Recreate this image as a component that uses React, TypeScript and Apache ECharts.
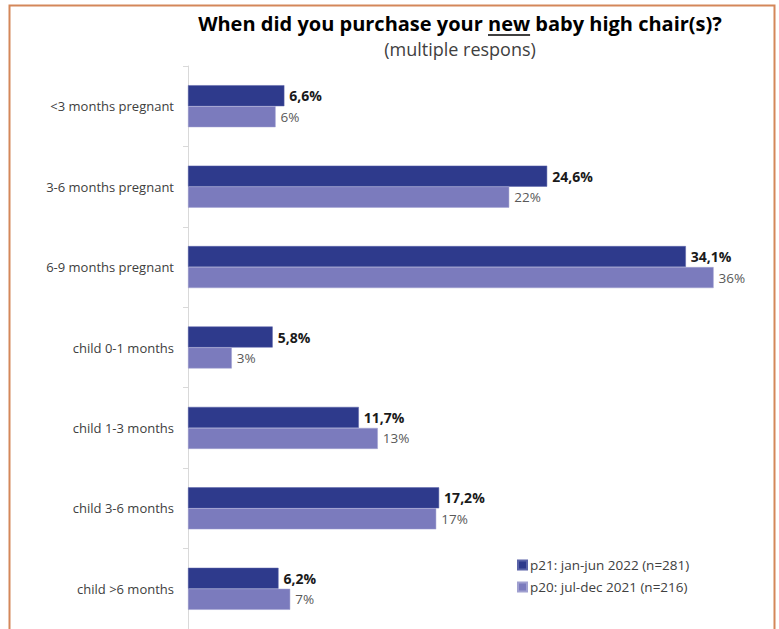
import React, { useEffect, useRef } from "react";
import * as echarts from "echarts";

const categories = [
  "<3 months pregnant",
  "3-6 months pregnant",
  "6-9 months pregnant",
  "child 0-1 months",
  "child 1-3 months",
  "child 3-6 months",
  "child >6 months",
];
const p21Values = [6.6, 24.6, 34.1, 5.8, 11.7, 17.2, 6.2];
const p20Values = [6, 22, 36, 3, 13, 17, 7];
const seriesNames = ["p21: jan-jun 2022 (n=281)", "p20: jul-dec 2021 (n=216)"];
const titlePre = "When did you purchase your ";
const titleNew = "new";
const titlePost = " baby high chair(s)?";
const subtitle = "(multiple respons)";

const FONT = "'Open Sans', sans-serif";

function measure(text: string, font: string): number {
  const c = document.createElement("canvas");
  const ctx = c.getContext("2d");
  if (!ctx) return text.length * 8;
  ctx.font = font;
  return ctx.measureText(text).width;
}

const fmt = (v: number, dec: boolean) =>
  (dec ? v.toFixed(1) : String(Math.round(v))).replace(".", ",") + "%";

export default function App() {
  const ref = useRef<HTMLDivElement>(null);
  useEffect(() => {
    if (!ref.current) return;
    const chart = echarts.init(ref.current, undefined, { renderer: "svg" });
    const titleFont = "bold 20px 'Open Sans'";
    const wPre = measure(titlePre, titleFont);
    const wNew = measure(titleNew, titleFont);
    const wPost = measure(titlePost, titleFont);
    const total = wPre + wNew + wPost;
    const cx = 460;
    const startX = cx - total / 2;
    chart.setOption({
      animation: false,
      backgroundColor: "#ffffff",
      grid: { left: 188, right: 7, top: 66, height: 567 },
      xAxis: {
        type: "value",
        min: 0,
        max: 40,
        show: false,
      },
      yAxis: {
        type: "category",
        data: categories,
        inverse: true,
        axisLine: { show: true, lineStyle: { color: "#d9d9d9", width: 1 } },
        axisTick: { show: true, length: 5, lineStyle: { color: "#d9d9d9" } },
        axisLabel: { color: "#404040", fontSize: 13, fontFamily: FONT, margin: 14 },
      },
      legend: {
        orient: "vertical",
        left: 512,
        top: 553,
        itemWidth: 9,
        itemHeight: 9,
        itemGap: 8,
        icon: "rect",
        textStyle: { color: "#404040", fontSize: 13.5, fontFamily: FONT, padding: [0, 0, 0, -2] },
        data: seriesNames,
      },
      series: [
        {
          name: seriesNames[0],
          type: "bar",
          data: p21Values,
          barWidth: 21,
          barGap: "0%",
          itemStyle: { color: "#2E3A8C", borderColor: "#5a63a8", borderWidth: 0.5 },
          label: {
            show: true,
            position: "right",
            distance: 5,
            color: "#1a1a1a",
            fontWeight: "bold",
            fontSize: 14,
            fontFamily: FONT,
            formatter: (p: any) => fmt(p.value, true),
          },
        },
        {
          name: seriesNames[1],
          type: "bar",
          data: p20Values,
          barWidth: 21,
          barGap: "0%",
          itemStyle: { color: "#7B7BBD", borderColor: "#a0a0d0", borderWidth: 0.5 },
          label: {
            show: true,
            position: "right",
            distance: 5,
            color: "#595959",
            fontSize: 13.5,
            fontFamily: FONT,
            formatter: (p: any) => fmt(p.value, false),
          },
        },
      ],
      graphic: [
        {
          type: "rect",
          silent: true,
          shape: { x: 9.5, y: 5.5, width: 765, height: 700 },
          style: { fill: "none", stroke: "#D4875A", lineWidth: 2 },
        },
        {
          type: "text",
          x: startX,
          y: 23,
          style: {
            text: titlePre + titleNew + titlePost,
            font: titleFont,
            fill: "#000000",
            verticalAlign: "middle",
          },
        },
        {
          type: "line",
          shape: { x1: startX + wPre, y1: 35, x2: startX + wPre + wNew, y2: 35 },
          style: { stroke: "#000000", lineWidth: 1.4 },
        },
        {
          type: "text",
          x: cx,
          y: 48.5,
          style: {
            text: subtitle,
            font: "18px 'Open Sans'",
            fill: "#404040",
            align: "center",
            verticalAlign: "middle",
          },
        },
      ],
    });
    return () => chart.dispose();
  }, []);
  return <div ref={ref} style={{ width: 779, height: 629, position: "absolute", left: 0, top: 0 }} />;
}
